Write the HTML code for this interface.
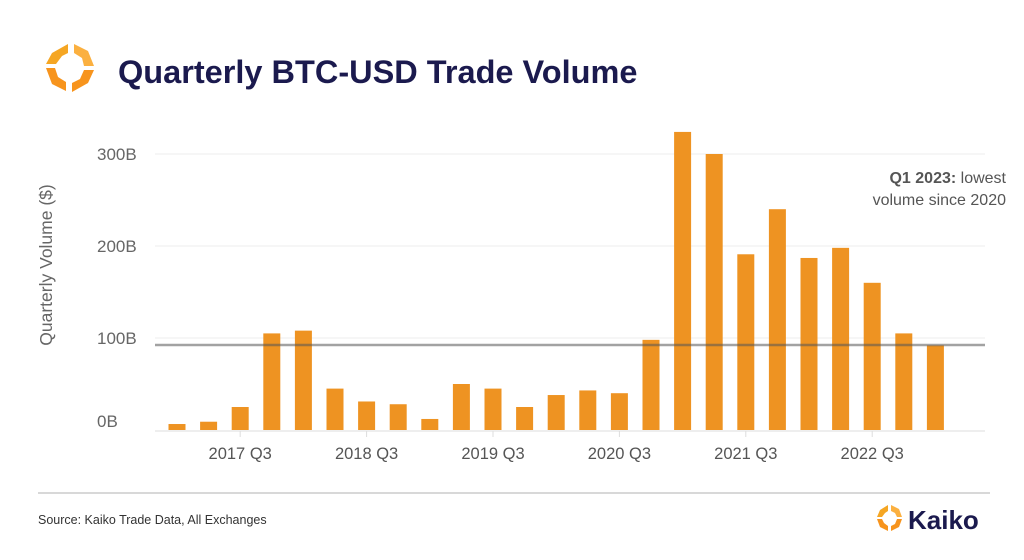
<!DOCTYPE html>
<html><head><meta charset="utf-8"><style>
body{margin:0;background:#fff;width:1024px;height:555px;overflow:hidden;font-family:"Liberation Sans",sans-serif}
</style></head><body>
<svg width="1024" height="555">
<g>
<polygon points="68,44 52,53 46,64 56,64 62,56 68,53" fill="#f5a623"/>
<polygon points="46,68 52,84 66,91 66,82 58,77 55,68" fill="#f7941d"/>
<polygon points="74,44 74,53 82,58 84,66 94,66 88,51" fill="#fbb040"/>
<polygon points="94,70 84,70 80,79 72,83 72,92 88,83" fill="#f7941d"/>
</g>
<text x="118" y="83" font-size="32.5" font-weight="bold" fill="#1b1a4e">Quarterly BTC-USD Trade Volume</text>
<g id="grid"></g>
<g id="bars"></g>
<line x1="155" x2="985" y1="345" y2="345" stroke="#555" stroke-opacity="0.55" stroke-width="2.5"/>
<text x="52" y="265" font-size="17.5" fill="#666" transform="rotate(-90 52 265)" text-anchor="middle">Quarterly Volume ($)</text>
<text x="1006" y="183" font-size="16" fill="#555" text-anchor="end"><tspan font-weight="bold">Q1 2023:</tspan> lowest</text>
<text x="1006" y="205" font-size="16" fill="#555" text-anchor="end">volume since 2020</text>
<line x1="38" x2="990" y1="493" y2="493" stroke="#ccc" stroke-width="1.5"/>
<text x="38" y="524" font-size="12.5" fill="#333">Source: Kaiko Trade Data, All Exchanges</text>
<g>
<polygon points="888,505 880,510 877,517 882,517 885,513 888,511" fill="#f5a623"/>
<polygon points="877,519 880,527 888,531 888,526 884,523 882,519" fill="#f7941d"/>
<polygon points="891,505 891,511 895,513 897,517 902,517 899,509" fill="#fbb040"/>
<polygon points="902,519 897,519 895,524 891,526 891,531 899,527" fill="#f7941d"/>
<text x="908" y="529" font-size="26" font-weight="bold" fill="#1b1a4e">Kaiko</text>
</g>
</svg>
<script>
const categories=["2017 Q1","2017 Q2","2017 Q3","2017 Q4","2018 Q1","2018 Q2","2018 Q3","2018 Q4","2019 Q1","2019 Q2","2019 Q3","2019 Q4","2020 Q1","2020 Q2","2020 Q3","2020 Q4","2021 Q1","2021 Q2","2021 Q3","2021 Q4","2022 Q1","2022 Q2","2022 Q3","2022 Q4","2023 Q1"];
const volumes=[6.5,9,25,105,108,45,31,28,12,50,45,25,38,43,40,98,324,300,191,240,187,198,160,105,92];
const yTicks=[0,100,200,300];
const yTickLabels=["0B","100B","200B","300B"];
const xTickLabels=["2017 Q3","2018 Q3","2019 Q3","2020 Q3","2021 Q3","2022 Q3"];
const NS="http://www.w3.org/2000/svg";
const y=v=>430-v*0.92;
const x=i=>177+i*31.6;
const grid=document.getElementById('grid'),bars=document.getElementById('bars');
yTicks.forEach((t,k)=>{
 if(t>0){const l=document.createElementNS(NS,'line');
 l.setAttribute('x1',155);l.setAttribute('x2',985);l.setAttribute('y1',y(t));l.setAttribute('y2',y(t));
 l.setAttribute('stroke','#eee');
 
 grid.appendChild(l);}
 const tx=document.createElementNS(NS,'text');
 tx.setAttribute('x',97);tx.setAttribute('y',t===0?427:y(t)+6);
 tx.setAttribute('font-size','17');tx.setAttribute('fill','#666');tx.textContent=yTickLabels[k];
 
 grid.appendChild(tx);
});
const base=document.createElementNS(NS,'line');
base.setAttribute('x1',155);base.setAttribute('x2',985);base.setAttribute('y1',431);base.setAttribute('y2',431);base.setAttribute('stroke','#ddd');

grid.appendChild(base);
volumes.forEach((v,i)=>{
 const r=document.createElementNS(NS,'rect');
 r.setAttribute('x',x(i)-8.5);r.setAttribute('width',17);r.setAttribute('y',y(v));r.setAttribute('height',430-y(v));
 r.setAttribute('fill','#ee9322');
 
 bars.appendChild(r);
});
xTickLabels.forEach(lab=>{
 const i=categories.indexOf(lab);
 const tk=document.createElementNS(NS,'line');
 tk.setAttribute('x1',x(i));tk.setAttribute('x2',x(i));tk.setAttribute('y1',431);tk.setAttribute('y2',437);tk.setAttribute('stroke','#ddd');
 
 grid.appendChild(tk);
 const t=document.createElementNS(NS,'text');
 t.setAttribute('x',x(i));t.setAttribute('y',459);t.setAttribute('text-anchor','middle');t.setAttribute('font-size','16.5');t.setAttribute('fill','#555');
 t.textContent=lab;
 
 grid.appendChild(t);
});
</script>
</body></html>
